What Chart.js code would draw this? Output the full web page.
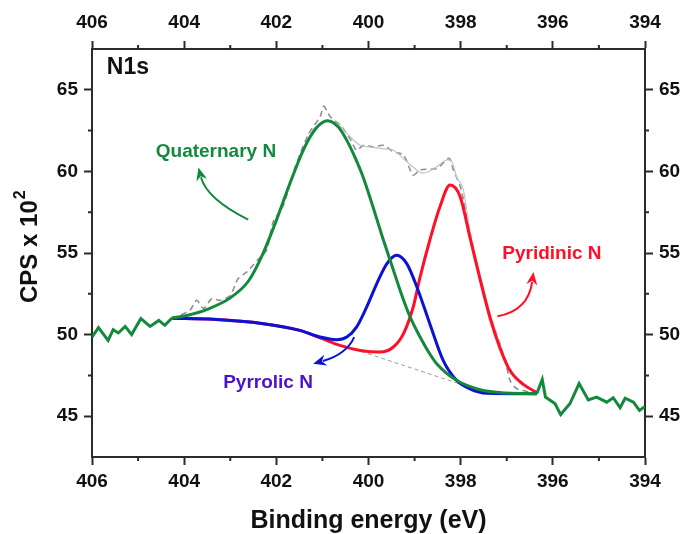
<!DOCTYPE html>
<html>
<head>
<meta charset="utf-8">
<script src="https://cdn.jsdelivr.net/npm/chart.js@4"></script>
<style>
  body { margin: 0; background: #fff; }
  canvas { display: block; }
</style>
</head>
<body>
<canvas id="xpsChart" width="685" height="534"></canvas>
<script>
// ---- data ----
var xTicks = [406, 404, 402, 400, 398, 396, 394];
var xMinor = [405, 403, 401, 399, 397, 395];
var yTicks = [45, 50, 55, 60, 65];
var yMinor = [47.5, 52.5, 57.5, 62.5];

// raw data outside the fit window (green, noisy)
var noiseLeftE   = [406.0, 405.86, 405.65, 405.54, 405.43, 405.28, 405.14, 404.94, 404.74, 404.55, 404.42, 404.27];
var noiseLeftCps = [49.85, 50.43, 49.65, 50.30, 50.10, 50.50, 50.00, 50.98, 50.50, 50.87, 50.57, 51.00];
var noiseRightE   = [396.35, 396.23, 396.16, 395.95, 395.83, 395.63, 395.43, 395.23, 395.05, 394.83, 394.69, 394.54, 394.43, 394.25, 394.12, 394.0];
var noiseRightCps = [46.38, 47.25, 46.17, 45.76, 45.10, 45.76, 47.00, 46.00, 46.17, 45.86, 46.13, 45.52, 46.10, 45.86, 45.35, 45.60];

// Quaternary N component
var quatE   = [404.27, 403.9, 403.5, 403.0, 402.6, 402.3, 402.0, 401.7, 401.4, 401.15, 400.89, 400.65, 400.47, 400.3, 400.11, 399.9, 399.7, 399.5, 399.3, 399.1, 398.88, 398.7, 398.52, 398.09, 397.58, 397.0, 396.35];
var quatCps = [51.00, 51.20, 51.55, 52.25, 53.30, 54.90, 57.00, 59.30, 61.40, 62.60, 63.10, 62.70, 61.90, 60.90, 59.60, 57.80, 56.00, 54.30, 52.60, 51.10, 49.85, 48.95, 48.22, 47.20, 46.62, 46.42, 46.38];

// Pyrrolic N component
var pyrrE   = [404.27, 403.37, 402.28, 401.49, 401.05, 400.69, 400.47, 400.26, 400.04, 399.82, 399.6, 399.39, 399.17, 398.95, 398.67, 398.38, 398.09, 397.8, 397.43, 396.35];
var pyrrCps = [51.00, 50.94, 50.67, 50.26, 49.85, 49.69, 49.85, 50.46, 51.69, 53.13, 54.35, 54.86, 54.35, 52.92, 50.67, 48.42, 47.20, 46.68, 46.41, 46.38];

// Pyridinic N component
var pyriE   = [404.27, 403.37, 402.28, 401.49, 401.05, 400.62, 400.18, 399.75, 399.46, 399.24, 399.03, 398.88, 398.67, 398.45, 398.23, 398.01, 397.8, 397.58, 397.36, 397.15, 396.93, 396.64, 396.35];
var pyriCps = [51.00, 50.94, 50.67, 50.26, 49.80, 49.34, 49.03, 48.93, 49.24, 50.06, 51.69, 53.53, 55.78, 57.83, 59.16, 58.44, 55.98, 53.40, 51.00, 49.20, 47.80, 46.95, 46.45];

// envelope (sum of fit)
var envE   = [401.3, 401.05, 400.89, 400.68, 400.4, 400.18, 399.97, 399.68, 399.46, 399.17, 398.81, 398.52, 398.3, 398.19, 398.09, 397.94, 397.8, 397.58, 397.36, 397.15, 396.93, 396.64, 396.35];
var envCps = [62.30, 62.95, 63.15, 62.94, 62.12, 61.60, 61.50, 61.40, 61.30, 60.60, 59.90, 60.28, 60.70, 60.60, 59.67, 58.85, 56.30, 53.70, 51.30, 49.40, 47.90, 46.95, 46.45];

// measured spectrum (grey dashed)
var rawE   = [404.27, 404.0, 403.87, 403.73, 403.58, 403.4, 403.22, 403.0, 402.83, 402.64, 402.4, 402.21, 402.07, 401.85, 401.6, 401.3, 401.05, 400.97, 400.83, 400.6, 400.4, 400.26, 400.11, 399.9, 399.68, 399.46, 399.24, 399.03, 398.88, 398.52, 398.25, 398.16, 398.0, 397.8, 397.58, 397.36, 397.04, 396.93, 396.78, 396.35];
var rawCps = [51.00, 51.30, 51.50, 52.10, 51.60, 52.20, 52.10, 52.40, 53.43, 53.84, 54.60, 55.17, 56.90, 57.90, 60.20, 62.30, 63.35, 64.00, 63.35, 62.80, 62.00, 61.30, 61.60, 61.50, 61.60, 61.20, 61.00, 59.77, 60.10, 60.18, 60.80, 60.10, 59.00, 56.30, 53.50, 51.20, 48.52, 47.20, 46.68, 46.40];

// linear background under the peaks
var bgE   = [400.3, 397.4];
var bgCps = [49.10, 46.40];

var green = "#13893d";
var red = "#ff1028";
var blue = "#0a12d4";
var axisColor = "#2b2b2b";
var fontFamily = "'Liberation Sans', Arial, sans-serif";

function pts(xs, ys) {
  var out = [];
  for (var i = 0; i < xs.length; i++) out.push({ x: xs[i], y: ys[i] });
  return out;
}

// annotation labels and arrows, placed in data units
var notes = [
  { text: "N1s", x: 405.22, y: 66.33, color: "#111", size: 23 },
  { text: "Quaternary N", x: 403.31, y: 61.18, color: green, size: 19 },
  { text: "Pyridinic N", x: 396.02, y: 54.94, color: red, size: 19 },
  { text: "Pyrrolic N", x: 402.18, y: 47.03, color: "#4a12cc", size: 19 }
];
var arrows = [
  { tail: [402.61, 57.05], ctrl: [403.51, 58.32], tip: [403.69, 60.24], color: green },
  { tail: [397.20, 51.12], ctrl: [396.53, 51.48], tip: [396.42, 53.84], color: red },
  { tail: [400.31, 49.85], ctrl: [400.48, 48.79], tip: [401.20, 48.22], color: blue }
];

var extras = {
  id: "extras",
  afterDraw: function (chart) {
    var ctx = chart.ctx;
    var x = chart.scales.x, x2 = chart.scales.x2, y = chart.scales.y, y2 = chart.scales.y2;
    ctx.save();

    // minor ticks
    ctx.strokeStyle = axisColor;
    ctx.lineWidth = 2;
    ctx.beginPath();
    xMinor.forEach(function (v) {
      var px = x.getPixelForValue(v);
      ctx.moveTo(px, x.top); ctx.lineTo(px, x.top + 4);
      ctx.moveTo(px, x2.bottom); ctx.lineTo(px, x2.bottom - 4);
    });
    yMinor.forEach(function (v) {
      var py = y.getPixelForValue(v);
      ctx.moveTo(y.right, py); ctx.lineTo(y.right - 4, py);
      ctx.moveTo(y2.left, py); ctx.lineTo(y2.left + 4, py);
    });
    ctx.stroke();

    // y title with superscript
    ctx.save();
    ctx.translate(37, 303);
    ctx.rotate(-Math.PI / 2);
    ctx.fillStyle = "#111";
    ctx.textBaseline = "alphabetic";
    ctx.textAlign = "left";
    ctx.font = "bold 24px " + fontFamily;
    var main = "CPS x 10";
    ctx.fillText(main, 0, 0);
    var w = ctx.measureText(main).width;
    ctx.font = "bold 16px " + fontFamily;
    ctx.fillText("2", w + 1, -12);
    ctx.restore();

    // labels
    notes.forEach(function (n) {
      ctx.fillStyle = n.color;
      ctx.font = "bold " + n.size + "px " + fontFamily;
      ctx.textAlign = "center";
      ctx.textBaseline = "middle";
      ctx.fillText(n.text, x.getPixelForValue(n.x), y.getPixelForValue(n.y));
    });

    // curved arrows
    arrows.forEach(function (a) {
      var t = { x: x.getPixelForValue(a.tail[0]), y: y.getPixelForValue(a.tail[1]) };
      var c = { x: x.getPixelForValue(a.ctrl[0]), y: y.getPixelForValue(a.ctrl[1]) };
      var h = { x: x.getPixelForValue(a.tip[0]), y: y.getPixelForValue(a.tip[1]) };
      var ang = Math.atan2(h.y - c.y, h.x - c.x);
      var len = 13, half = 5.5;
      var bx = h.x - len * Math.cos(ang), by = h.y - len * Math.sin(ang);
      ctx.strokeStyle = a.color;
      ctx.fillStyle = a.color;
      ctx.lineWidth = 2;
      ctx.beginPath();
      ctx.moveTo(t.x, t.y);
      ctx.quadraticCurveTo(c.x, c.y, bx + 3 * Math.cos(ang), by + 3 * Math.sin(ang));
      ctx.stroke();
      ctx.beginPath();
      ctx.moveTo(h.x, h.y);
      ctx.lineTo(bx - half * Math.sin(ang), by + half * Math.cos(ang));
      ctx.lineTo(h.x - 9 * Math.cos(ang), h.y - 9 * Math.sin(ang));
      ctx.lineTo(bx + half * Math.sin(ang), by - half * Math.cos(ang));
      ctx.closePath();
      ctx.fill();
    });
    ctx.restore();
  }
};

var tickFont = { family: fontFamily, size: 19, weight: "bold" };

function xAxis(pos, h) {
  return {
    type: "linear",
    position: pos,
    min: 394,
    max: 406,
    reverse: true,
    afterBuildTicks: function (s) { s.ticks = xTicks.map(function (v) { return { value: v }; }); },
    ticks: { font: tickFont, color: "#111", padding: pos === "top" ? 7 : 5, maxRotation: 0 },
    grid: { drawOnChartArea: false, tickLength: 8, tickWidth: 2, tickColor: axisColor },
    border: { color: axisColor, width: 2 },
    title: {
      display: pos === "bottom",
      text: "Binding energy (eV)",
      color: "#111",
      font: { family: fontFamily, size: 25, weight: "bold", lineHeight: 1 },
      padding: { top: 0, bottom: 0 }
    },
    afterFit: function (s) { s.height = h; }
  };
}

function yAxis(pos, w) {
  return {
    type: "linear",
    position: pos,
    min: 42.5,
    max: 67.5,
    afterBuildTicks: function (s) { s.ticks = yTicks.map(function (v) { return { value: v }; }); },
    ticks: { font: tickFont, color: "#111", padding: 6 },
    grid: { drawOnChartArea: false, tickLength: 8, tickWidth: 2, tickColor: axisColor },
    border: { color: axisColor, width: 2 },
    afterFit: function (s) { s.width = w; }
  };
}

var ctx = document.getElementById("xpsChart");

var xpsChart = new Chart(ctx, {
  type: "line",
  data: {
    datasets: [
      { label: "raw left", data: pts(noiseLeftE, noiseLeftCps), borderColor: green, borderWidth: 3, tension: 0 },
      { label: "Quaternary N", data: pts(quatE, quatCps), borderColor: green, borderWidth: 3, cubicInterpolationMode: "monotone" },
      { label: "raw right", data: pts(noiseRightE, noiseRightCps), borderColor: green, borderWidth: 3, tension: 0 },
      { label: "Pyrrolic N", data: pts(pyrrE, pyrrCps), borderColor: blue, borderWidth: 3, cubicInterpolationMode: "monotone" },
      { label: "Pyridinic N", data: pts(pyriE, pyriCps), borderColor: red, borderWidth: 3, cubicInterpolationMode: "monotone" },
      { label: "envelope", data: pts(envE, envCps), borderColor: "#c4c4c4", borderWidth: 1.2, cubicInterpolationMode: "monotone" },
      { label: "measured", data: pts(rawE, rawCps), borderColor: "#8f8f8f", borderWidth: 1.6, borderDash: [6, 4], tension: 0.25 },
      { label: "background", data: pts(bgE, bgCps), borderColor: "#9a9a9a", borderWidth: 1, borderDash: [4, 3], tension: 0 }
    ]
  },
  options: {
    responsive: false,
    animation: false,
    devicePixelRatio: 1,
    layout: { padding: 0 },
    elements: { point: { radius: 0 } },
    plugins: { legend: { display: false }, tooltip: { enabled: false } },
    scales: {
      x: xAxis("bottom", 77),
      x2: xAxis("top", 49),
      y: yAxis("left", 92),
      y2: yAxis("right", 40)
    }
  },
  plugins: [extras]
});
</script>
</body>
</html>
